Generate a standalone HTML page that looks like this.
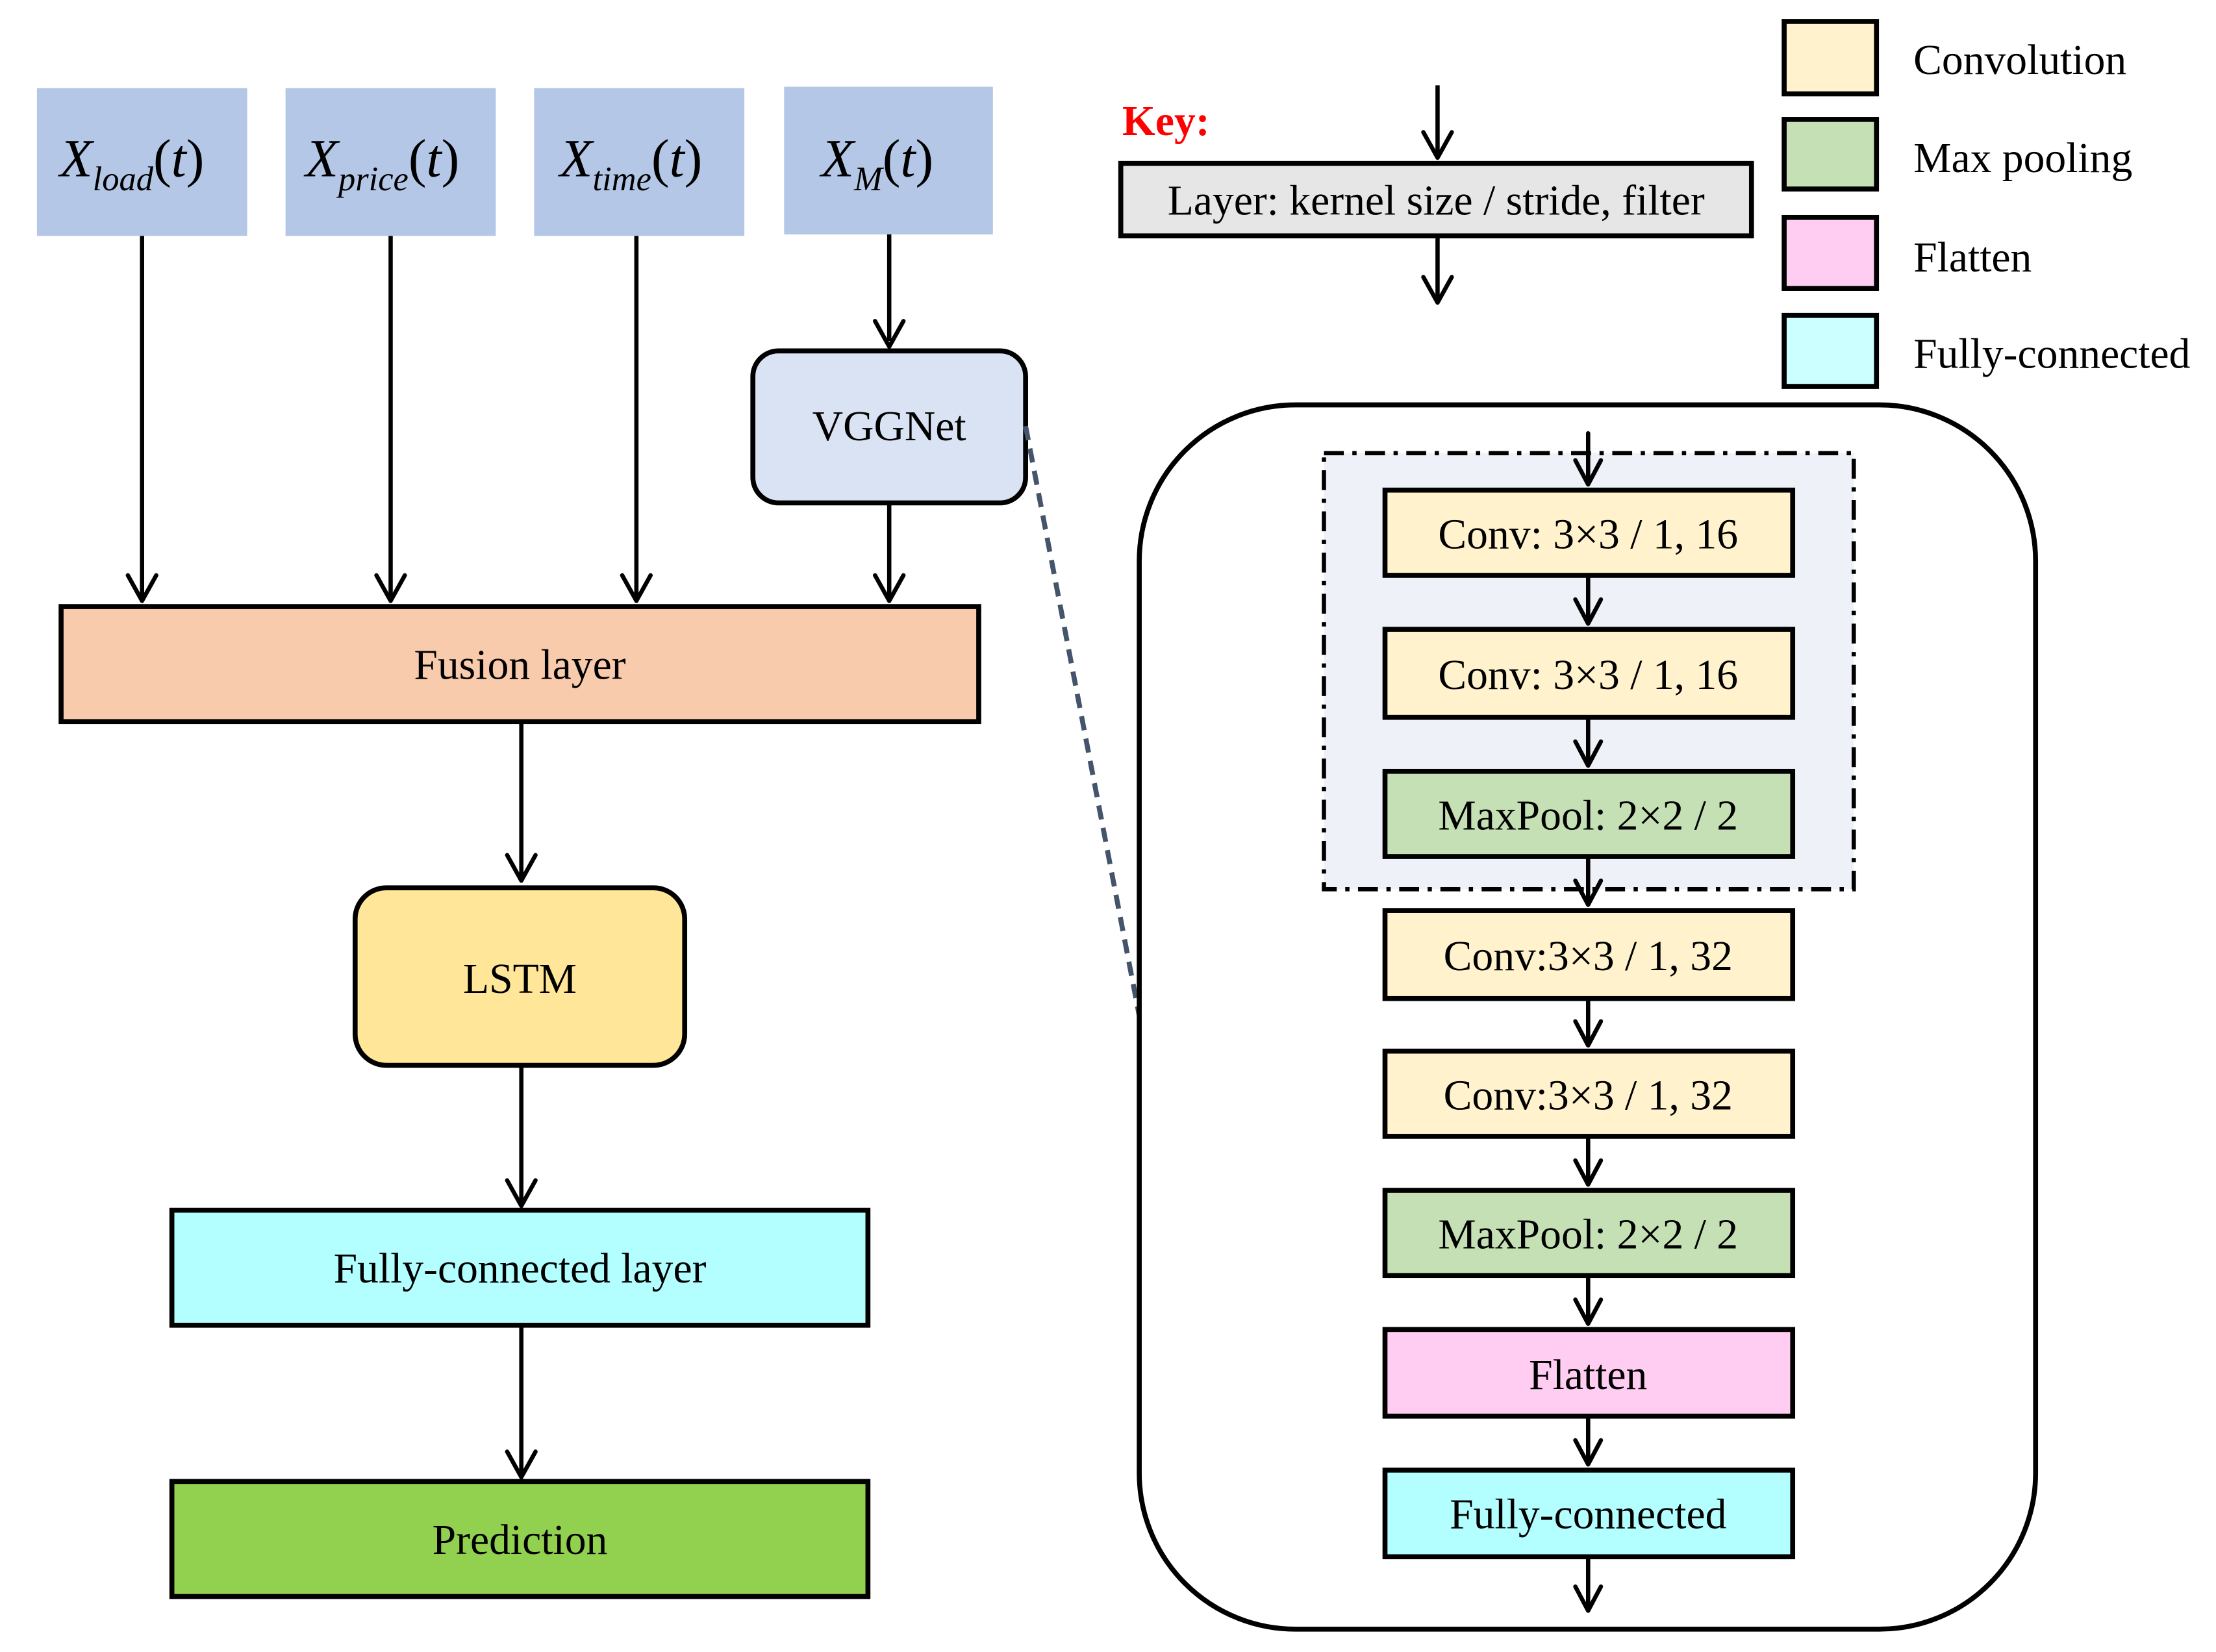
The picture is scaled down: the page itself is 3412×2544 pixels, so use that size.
<!DOCTYPE html>
<html><head><meta charset="utf-8"><style>
html,body{margin:0;padding:0;background:#fff;}
svg{display:block;}
text{font-family:"Liberation Serif",serif;}
</style></head><body>
<svg width="3412" height="2544" viewBox="0 0 1560 1163" xmlns="http://www.w3.org/2000/svg">
<g fill="#b4c7e7">
<rect x="26" y="62" width="148" height="104"/>
<rect x="201" y="62" width="148" height="104"/>
<rect x="376" y="62" width="148" height="104"/>
<rect x="552" y="61" width="147" height="104"/>
</g>
<g font-style="italic" font-size="38" fill="#000">
<text x="42" y="124">X<tspan font-size="24" dy="10">load</tspan><tspan dy="-10" font-style="normal">(</tspan>t<tspan font-style="normal">)</tspan></text>
<text x="215" y="124">X<tspan font-size="24" dy="10">price</tspan><tspan dy="-10" font-style="normal">(</tspan>t<tspan font-style="normal">)</tspan></text>
<text x="394" y="124">X<tspan font-size="24" dy="10">time</tspan><tspan dy="-10" font-style="normal">(</tspan>t<tspan font-style="normal">)</tspan></text>
<text x="578" y="124">X<tspan font-size="24" dy="10">M</tspan><tspan dy="-10" font-style="normal">(</tspan>t<tspan font-style="normal">)</tspan></text>
</g>
<g stroke="#000" stroke-width="3" fill="none">
<line x1="100" y1="166" x2="100" y2="420"/>
<line x1="275" y1="166" x2="275" y2="420"/>
<line x1="448" y1="166" x2="448" y2="420"/>
<line x1="626" y1="165" x2="626" y2="240"/>
<line x1="626" y1="354" x2="626" y2="420"/>
<line x1="367" y1="508" x2="367" y2="617"/>
<line x1="367" y1="750" x2="367" y2="846"/>
<line x1="367" y1="933" x2="367" y2="1037"/>
<line x1="1012" y1="60" x2="1012" y2="108"/>
<line x1="1012" y1="166" x2="1012" y2="210"/>
</g>
<g fill="none" stroke="#000" stroke-width="3" stroke-linecap="round" stroke-linejoin="round">
<polyline points="90,405 100,423 110,405"/>
<polyline points="265,405 275,423 285,405"/>
<polyline points="438,405 448,423 458,405"/>
<polyline points="616,226 626,244 636,226"/>
<polyline points="616,405 626,423 636,405"/>
<polyline points="357,602 367,620 377,602"/>
<polyline points="357,831 367,849 377,831"/>
<polyline points="357,1022 367,1040 377,1022"/>
<polyline points="1002,93 1012,111 1022,93"/>
<polyline points="1002,195 1012,213 1022,195"/>
</g>
<rect x="530" y="247" width="192" height="107" rx="18" fill="#dae3f3" stroke="#000" stroke-width="3.5"/>
<text x="626" y="310" font-size="30" text-anchor="middle">VGGNet</text>
<rect x="43" y="427" width="646" height="81" fill="#f8cbad" stroke="#000" stroke-width="3.5"/>
<text x="366" y="478" font-size="30" text-anchor="middle">Fusion layer</text>
<rect x="250" y="625" width="232" height="125" rx="22" fill="#ffe699" stroke="#000" stroke-width="3.5"/>
<text x="366" y="699" font-size="30" text-anchor="middle">LSTM</text>
<rect x="121" y="852" width="490" height="81" fill="#b3ffff" stroke="#000" stroke-width="3.5"/>
<text x="366" y="903" font-size="30" text-anchor="middle">Fully-connected  layer</text>
<rect x="121" y="1043" width="490" height="81" fill="#92d050" stroke="#000" stroke-width="3.5"/>
<text x="366" y="1094" font-size="30" text-anchor="middle">Prediction</text>

<text x="790" y="95" font-size="30" font-weight="bold" fill="#ff0000">Key:</text>
<rect x="789" y="115" width="444" height="51" fill="#e7e6e6" stroke="#000" stroke-width="3.5"/>
<text x="1011" y="151" font-size="30" text-anchor="middle">Layer: kernel size / stride, filter</text>

<g stroke="#000" stroke-width="3.5">
<rect x="1256" y="15" width="65" height="51" fill="#fff2cc"/>
<rect x="1256" y="84" width="65" height="49" fill="#c5e0b4"/>
<rect x="1256" y="153" width="65" height="50" fill="#ffccf2"/>
<rect x="1256" y="222" width="65" height="50" fill="#ccffff"/>
</g>
<g font-size="30">
<text x="1347" y="52">Convolution</text>
<text x="1347" y="121">Max pooling</text>
<text x="1347" y="191">Flatten</text>
<text x="1347" y="259">Fully-connected</text>
</g>

<line x1="722" y1="300" x2="802" y2="715" stroke="#44546a" stroke-width="3.5" stroke-dasharray="10,6"/>
<rect x="802" y="285" width="631" height="862" rx="110" fill="none" stroke="#000" stroke-width="3.5"/>
<rect x="932" y="319" width="373" height="307" fill="#eef1f8" stroke="#000" stroke-width="3" stroke-dasharray="14,6,3,6"/>

<g stroke="#000" stroke-width="3" fill="none" stroke-linecap="round" stroke-linejoin="round">
<line x1="1118" y1="305" x2="1118" y2="340"/><polyline points="1109,324 1118,341 1127,324"/>
<line x1="1118" y1="405" x2="1118" y2="438"/><polyline points="1109,422 1118,439 1127,422"/>
<line x1="1118" y1="505" x2="1118" y2="538"/><polyline points="1109,522 1118,539 1127,522"/>
<line x1="1118" y1="603" x2="1118" y2="636"/><polyline points="1109,620 1118,637 1127,620"/>
<line x1="1118" y1="703" x2="1118" y2="735"/><polyline points="1109,719 1118,736 1127,719"/>
<line x1="1118" y1="800" x2="1118" y2="833"/><polyline points="1109,817 1118,834 1127,817"/>
<line x1="1118" y1="898" x2="1118" y2="931"/><polyline points="1109,915 1118,932 1127,915"/>
<line x1="1118" y1="997" x2="1118" y2="1030"/><polyline points="1109,1014 1118,1031 1127,1014"/>
<line x1="1118" y1="1096" x2="1118" y2="1133"/><polyline points="1109,1117 1118,1134 1127,1117"/>
</g>
<g stroke="#000" stroke-width="3.5">
<rect x="975" y="345" width="287" height="60" fill="#fff2cc"/>
<rect x="975" y="443" width="287" height="62" fill="#fff2cc"/>
<rect x="975" y="543" width="287" height="60" fill="#c5e0b4"/>
<rect x="975" y="641" width="287" height="62" fill="#fff2cc"/>
<rect x="975" y="740" width="287" height="60" fill="#fff2cc"/>
<rect x="975" y="838" width="287" height="60" fill="#c5e0b4"/>
<rect x="975" y="936" width="287" height="61" fill="#ffccf2"/>
<rect x="975" y="1035" width="287" height="61" fill="#b3ffff"/>
</g>
<g font-size="30" text-anchor="middle">
<text x="1118" y="386">Conv: 3×3 / 1, 16</text>
<text x="1118" y="485">Conv: 3×3 / 1, 16</text>
<text x="1118" y="584">MaxPool: 2×2 / 2</text>
<text x="1118" y="683">Conv:3×3 / 1, 32</text>
<text x="1118" y="781">Conv:3×3 / 1, 32</text>
<text x="1118" y="879">MaxPool: 2×2 / 2</text>
<text x="1118" y="978">Flatten</text>
<text x="1118" y="1076">Fully-connected</text>
</g>
</svg>
</body></html>
